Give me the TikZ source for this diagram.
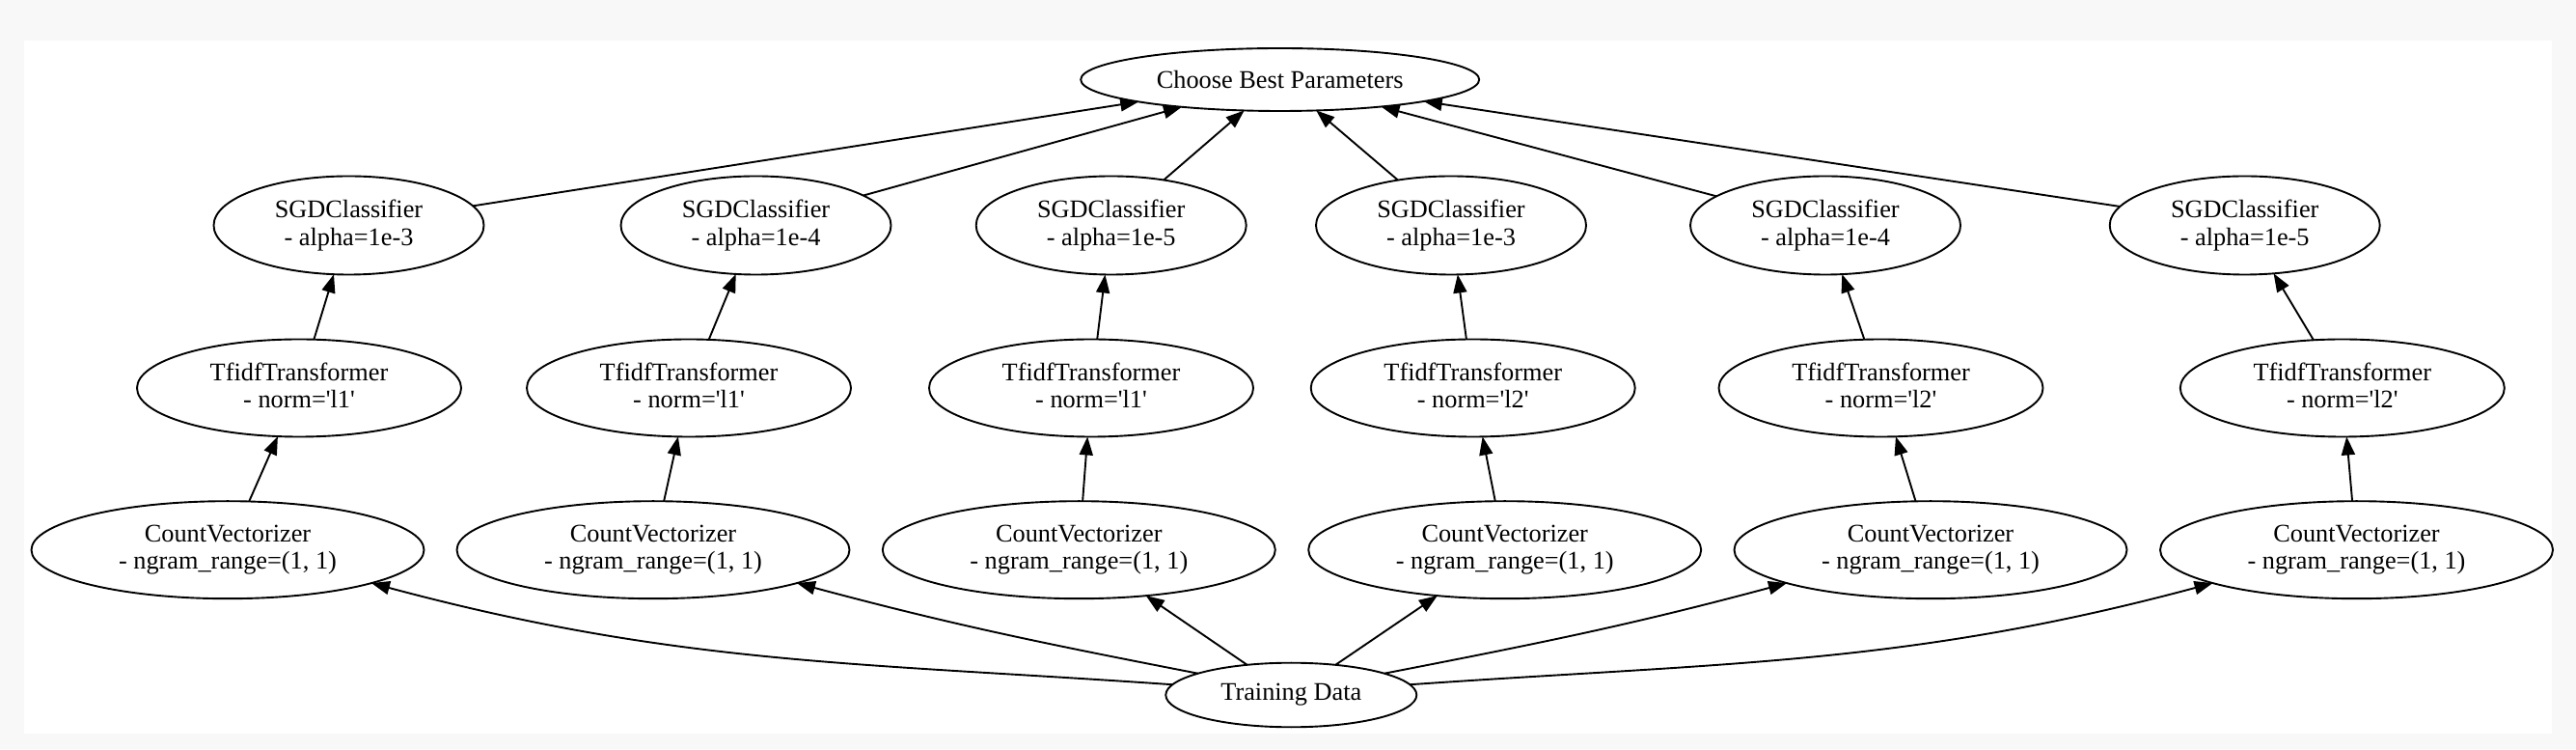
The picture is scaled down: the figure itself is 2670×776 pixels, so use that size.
\documentclass[tikz,border=0pt]{standalone}
\usepackage{fontspec}
\setmainfont{Liberation Serif}
\newfontfamily\gvfont{Liberation Serif}
\usetikzlibrary{arrows.meta,shapes.geometric}
\definecolor{bggray}{RGB}{248,248,248}
\begin{document}
\begin{tikzpicture}[x=1pt,y=1pt,
  every node/.style={ellipse, draw, line width=1.9pt, inner sep=0pt, outer sep=0pt,
    font=\gvfont\fontsize{26.3}{28.7}\selectfont, align=center},
  chobox/.style={minimum width=413pt, minimum height=65pt},
  trainbox/.style={minimum width=260pt, minimum height=66.6pt},
  sgdbox/.style={minimum width=280pt, minimum height=102pt},
  tfbox/.style={minimum width=336pt, minimum height=101pt},
  cvbox/.style={minimum width=407pt, minimum height=101pt},
  link/.style={line width=1.9pt, -{Triangle[length=19pt,width=14pt]}}
]
\useasboundingbox (0,0) rectangle (2670,776);
\fill[bggray] (0,0) rectangle (2670,776);
\fill[white] (25,16) rectangle (2645,734);

\node[chobox] (choose) at (1326.7,693.5) {Choose Best Parameters};
\node[trainbox] (train) at (1338.3,56) {Training Data};

\node[sgdbox] (sgd1) at (361.5,542.5) {SGDClassifier\\- alpha=1e-3};
\node[sgdbox] (sgd2) at (783.5,542.5) {SGDClassifier\\- alpha=1e-4};
\node[sgdbox] (sgd3) at (1151.7,542.5) {SGDClassifier\\- alpha=1e-5};
\node[sgdbox] (sgd4) at (1504,542.5) {SGDClassifier\\- alpha=1e-3};
\node[sgdbox] (sgd5) at (1892,542.5) {SGDClassifier\\- alpha=1e-4};
\node[sgdbox] (sgd6) at (2326.7,542.5) {SGDClassifier\\- alpha=1e-5};

\node[tfbox] (tf1) at (310,374) {TfidfTransformer\\- norm=\textquotesingle l1\textquotesingle\vphantom{p}};
\node[tfbox] (tf2) at (714,374) {TfidfTransformer\\- norm=\textquotesingle l1\textquotesingle\vphantom{p}};
\node[tfbox] (tf3) at (1131,374) {TfidfTransformer\\- norm=\textquotesingle l1\textquotesingle\vphantom{p}};
\node[tfbox] (tf4) at (1526.7,374) {TfidfTransformer\\- norm=\textquotesingle l2\textquotesingle\vphantom{p}};
\node[tfbox] (tf5) at (1949.5,374) {TfidfTransformer\\- norm=\textquotesingle l2\textquotesingle\vphantom{p}};
\node[tfbox] (tf6) at (2427.8,374) {TfidfTransformer\\- norm=\textquotesingle l2\textquotesingle\vphantom{p}};

\node[cvbox] (cv1) at (236,206.3) {CountVectorizer\\- ngram\_range=(1, 1)};
\node[cvbox] (cv2) at (677,206.3) {CountVectorizer\\- ngram\_range=(1, 1)};
\node[cvbox] (cv3) at (1118.3,206.3) {CountVectorizer\\- ngram\_range=(1, 1)};
\node[cvbox] (cv4) at (1559.7,206.3) {CountVectorizer\\- ngram\_range=(1, 1)};
\node[cvbox] (cv5) at (2001,206.3) {CountVectorizer\\- ngram\_range=(1, 1)};
\node[cvbox] (cv6) at (2442.5,206.3) {CountVectorizer\\- ngram\_range=(1, 1)};

\foreach \i in {1,...,6} {
  \draw[link] (sgd\i) -- (choose);
  \draw[link] (tf\i) -- (sgd\i);
  \draw[link] (cv\i) -- (tf\i);
}

\draw[link] (train.175) to[out=176,in=-15] (cv1.-13);
\draw[link] (train.167) to[out=169,in=-15] (cv2.-13);
\draw[link] (train) -- (cv3);
\draw[link] (train) -- (cv4);
\draw[link] (train.13) to[out=11,in=195] (cv5.193);
\draw[link] (train.5) to[out=4,in=195] (cv6.193);
\end{tikzpicture}
\end{document}
